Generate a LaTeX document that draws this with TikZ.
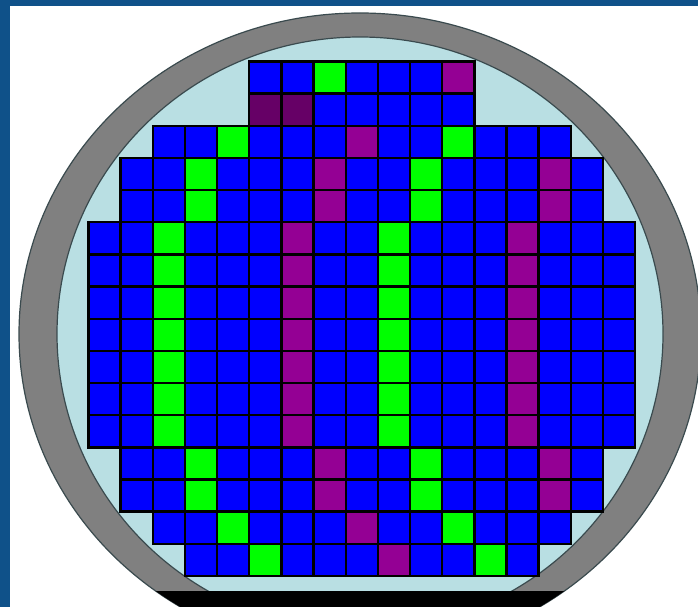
\documentclass[tikz,border=0pt]{standalone}
\usepackage{xcolor}
\definecolor{cFrame}{HTML}{0F5189}
\definecolor{cRing}{HTML}{808080}
\definecolor{cPool}{HTML}{B9DFE3}
\definecolor{cEdge}{HTML}{3A4A4E}
\definecolor{cB}{HTML}{0000FF}
\definecolor{cG}{HTML}{00FF00}
\definecolor{cP}{HTML}{940094}
\definecolor{cD}{HTML}{660066}
\usepackage{tikz}

\begin{document}
\begin{tikzpicture}[x=1pt, y=-1pt,
    cell/.style={draw, line width=2.4pt, minimum size=32.15pt,
                 inner sep=0pt, outer sep=0pt},
    rim/.style={draw=cEdge, line width=1.2pt}
]
\useasboundingbox (0,0) rectangle (698,607);
\fill[cFrame] (0,0) rectangle (698,607);
\fill[white] (10,6) rectangle (698,607);

\coordinate (mid) at (360,334);
\filldraw[rim, fill=cRing] (mid) ellipse [x radius=341pt, y radius=321pt];
\filldraw[rim, fill=cPool] (mid) ellipse [x radius=303pt, y radius=297pt];
\begin{scope}
  \clip (mid) ellipse [x radius=341pt, y radius=321pt];
  \fill[black] (0,591) rectangle (698,607);
\end{scope}

\foreach \row/\first/\cells in {
    0/5/{B,B,G,B,B,B,P},
    1/5/{D,D,B,B,B,B,B},
    2/2/{B,B,G,B,B,B,P,B,B,G,B,B,B},
    3/1/{B,B,G,B,B,B,P,B,B,G,B,B,B,P,B},
    4/1/{B,B,G,B,B,B,P,B,B,G,B,B,B,P,B},
    5/0/{B,B,G,B,B,B,P,B,B,G,B,B,B,P,B,B,B},
    6/0/{B,B,G,B,B,B,P,B,B,G,B,B,B,P,B,B,B},
    7/0/{B,B,G,B,B,B,P,B,B,G,B,B,B,P,B,B,B},
    8/0/{B,B,G,B,B,B,P,B,B,G,B,B,B,P,B,B,B},
    9/0/{B,B,G,B,B,B,P,B,B,G,B,B,B,P,B,B,B},
    10/0/{B,B,G,B,B,B,P,B,B,G,B,B,B,P,B,B,B},
    11/0/{B,B,G,B,B,B,P,B,B,G,B,B,B,P,B,B,B},
    12/1/{B,B,G,B,B,B,P,B,B,G,B,B,B,P,B},
    13/1/{B,B,G,B,B,B,P,B,B,G,B,B,B,P,B},
    14/2/{B,B,G,B,B,B,P,B,B,G,B,B,B},
    15/3/{B,B,G,B,B,B,P,B,B,G,B}}
  \foreach \k [count=\i from 0] in \cells
    \node[cell, fill=c\k] (cell-\row-\i)
      at ({88.5+32.15*(\first+\i)+16.075}, {61.5+32.15*\row+16.075}) {};
\end{tikzpicture}
\end{document}
